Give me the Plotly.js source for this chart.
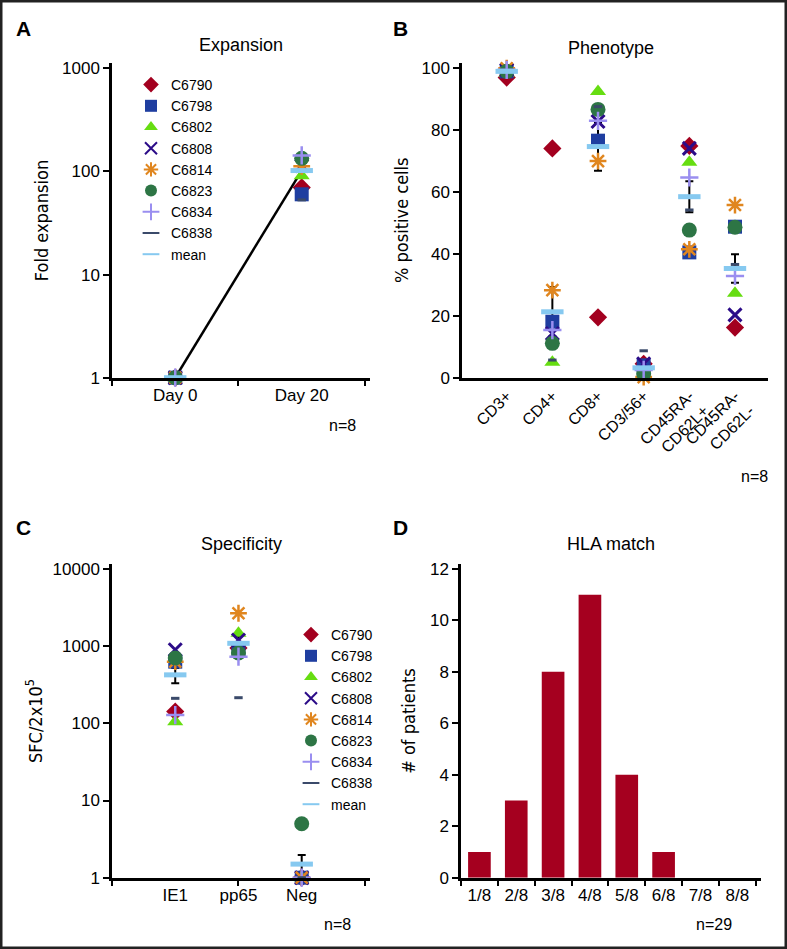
<!DOCTYPE html>
<html><head><meta charset="utf-8">
<script src="https://cdn.plot.ly/plotly-3.0.1.min.js"></script>
<style>html,body{margin:0;padding:0;background:#fff}#chart{width:787px;height:949px}</style>
</head><body><div id="chart"></div>
<script>
const W = 787, H = 949;
const patients = ['C6790','C6798','C6802','C6808','C6814','C6823','C6834','C6838'];

// Panel A: Expansion
const expDays = ['Day 0', 'Day 20'];
const expDay0 = [1, 1, 1, 1, 1, 1, 1, 1];
const expDay20 = [70, 60, 91, 114, 112, 134, 143, 53];
const expMean = [1, 102];

// Panel B: Phenotype (% positive cells)
const phenoCats = ['CD3+', 'CD4+', 'CD8+', 'CD3/56+', 'CD45RA-<br>CD62L+', 'CD45RA-<br>CD62L-'];
const phenoCD3 = [97, 99, 98.5, 99.5, 100, 99, 99.5, 99];
const phenoCD4 = [74.1, 18.1, 5, 14.3, 28.3, 11.1, 15.4, 5.7];
const phenoCD8 = [19.5, 76.6, 92.5, 82.8, 70, 86.7, 83, 87.6];
const phenoCD356 = [4.5, 4.0, 0.5, 4.5, 0.2, 1.3, 2.5, 8.7];
const phenoCD62Lpos = [74.9, 40.5, 69.6, 74.1, 41.5, 47.7, 64.7, 54.2];
const phenoCD62Lneg = [16.2, 48.8, 27.3, 20.3, 55.8, 48.6, 32.9, 36.6];
const phenoMean = [99, 21.3, 74.7, 3.2, 58.5, 35.3];
const phenoSEM = [0.3, 8, 7.8, 1, 5, 4.6];

// Panel C: Specificity (SFC/2x10^5)
const specCats = ['IE1', 'pp65', 'Neg'];
const specIE1 = [142, 630, 105, 900, 630, 703, 128, 211];
const specPP65 = [950, 893, 1469, 1203, 2670, 815, 731, 215];
const specNeg = [1, 1, 1, 1, 1, 5, 1, 1];
const specMean = [425, 1089, 1.5];
const specSEM = [95, 254, 0.47];

// Panel D: HLA match
const hlaCats = ['1/8', '2/8', '3/8', '4/8', '5/8', '6/8', '7/8', '8/8'];
const hlaCounts = [1, 3, 8, 11, 4, 1, 0, 0];

// Styles
const symbols = ['diamond', 'square', 'triangle-up', 'x-thin-open', 'asterisk-open', 'circle', 'cross-thin-open', 'line-ew-open'];
const colors = ['#a3001f', '#1f3ea0', '#66dd11', '#2c0c88', '#e0861f', '#2d7545', '#9a8ef0', '#3a4a6a'];
const mSizes = [14, 14, 14, 13, 14, 15, 13, 6];
const mLineW = [0, 0, 0, 3, 2.5, 0, 2.5, 3];
const meanColor = '#86c9f0';
const FONT = 'Liberation Sans, Arial, Helvetica, sans-serif';
const NARROW = 'Liberation Sans Narrow, Arial Narrow, DejaVu Sans Condensed, sans-serif';

function px(x) { return x / W; }
function py(y) { return 1 - y / H; }

function patientTrace(i, x, y, xa, ya, legendId, showLeg) {
  return {
    type: 'scatter', mode: 'markers', x: x, y: y, xaxis: xa, yaxis: ya,
    name: patients[i], legend: legendId, showlegend: showLeg, cliponaxis: false,
    hoverinfo: 'x+y+name',
    marker: { symbol: symbols[i], color: colors[i], size: mSizes[i],
      line: { color: colors[i], width: mLineW[i] } }
  };
}
function meanTrace(x, y, xa, ya, legendId, showLeg) {
  return {
    type: 'scatter', mode: 'markers', x: x, y: y, xaxis: xa, yaxis: ya,
    name: 'mean', legend: legendId, showlegend: showLeg, cliponaxis: false,
    marker: { symbol: 'line-ew-open', color: meanColor, size: 16, line: { color: meanColor, width: 5 } }
  };
}
function errTrace(x, y, err, xa, ya) {
  return {
    type: 'scatter', mode: 'markers', x: x, y: y, xaxis: xa, yaxis: ya,
    showlegend: false, hoverinfo: 'skip', cliponaxis: false,
    marker: { size: 1, opacity: 0 },
    error_y: { type: 'data', array: err, visible: true, color: '#000', thickness: 2, width: 4 }
  };
}

const traces = [];
// A
traces.push({ type: 'scatter', mode: 'lines', x: expDays, y: expMean, xaxis: 'x', yaxis: 'y',
  showlegend: false, hoverinfo: 'skip', line: { color: '#000', width: 2.5 } });
for (let i = 0; i < patients.length; i++) {
  traces.push(patientTrace(i, expDays, [expDay0[i], expDay20[i]], 'x', 'y', 'legend', true));
}
traces.push(meanTrace(expDays, expMean, 'x', 'y', 'legend', true));

// B
traces.push(errTrace(phenoCats, phenoMean, phenoSEM, 'x2', 'y2'));
for (let i = 0; i < patients.length; i++) {
  traces.push(patientTrace(i, phenoCats,
    [phenoCD3[i], phenoCD4[i], phenoCD8[i], phenoCD356[i], phenoCD62Lpos[i], phenoCD62Lneg[i]],
    'x2', 'y2', 'legend', false));
}
traces.push(meanTrace(phenoCats, phenoMean, 'x2', 'y2', 'legend', false));

// C
traces.push(errTrace(specCats, specMean, specSEM, 'x3', 'y3'));
for (let i = 0; i < patients.length; i++) {
  traces.push(patientTrace(i, specCats, [specIE1[i], specPP65[i], specNeg[i]], 'x3', 'y3', 'legend2', true));
}
traces.push(meanTrace(specCats, specMean, 'x3', 'y3', 'legend2', true));
traces.push({ type: 'scatter', x: [], y: [], xaxis: 'x5', yaxis: 'y3', showlegend: false, hoverinfo: 'skip' });

// D
traces.push({ type: 'bar', x: hlaCats, y: hlaCounts, xaxis: 'x4', yaxis: 'y4', showlegend: false,
  marker: { color: '#a5001f', line: { width: 0 } } });

const baseAxis = {
  showline: true, linecolor: '#000', linewidth: 2.5, showgrid: false, zeroline: false,
  ticks: 'outside', ticklen: 6, tickwidth: 2, tickcolor: '#000',
  tickfont: { family: FONT, size: 17, color: '#000' }
};
function ax(o) { return Object.assign({}, baseAxis, o); }
function ytitle(t, s) { return { text: t, font: { family: NARROW, size: 18, color: '#000' }, standoff: s }; }

const domA_x = [px(112), px(370)], domA_y = [py(377.7), py(63.3)];
const domB_x = [px(462), px(768)], domB_y = [py(377.7), py(62.7)];
const domC_x = [px(112), px(370)], domC_y = [py(877.7), py(564.3)];
const domD_x = [px(461), px(761)], domD_y = [py(877.7), py(564.3)];

function ann(text, x, y, size, bold) {
  return { text: bold ? '<b>' + text + '</b>' : text, x: px(x), y: py(y), xref: 'paper', yref: 'paper',
    xanchor: 'center', yanchor: 'middle', showarrow: false,
    font: { family: bold ? 'Liberation Sans, Arial, sans-serif' : FONT, size: size, color: '#000' } };
}

const layout = {
  width: W, height: H, margin: { l: 0, r: 0, t: 0, b: 0 },
  paper_bgcolor: '#fff', plot_bgcolor: 'rgba(0,0,0,0)',
  font: { family: FONT, color: '#000' },
  bargap: 0.385, hovermode: 'closest',
  xaxis: ax({ type: 'category', domain: domA_x, anchor: 'y', range: [-0.5, 1.54], tickson: 'boundaries' }),
  yaxis: ax({ type: 'log', domain: domA_y, anchor: 'x', range: [0, 3.0485],
    tickvals: [1, 10, 100, 1000], ticktext: ['1', '10', '100', '1000'], title: ytitle('Fold expansion', 9) }),
  xaxis2: ax({ type: 'category', domain: domB_x, anchor: 'y2', range: [-0.979, 5.723], ticks: '', tickangle: -45,
    tickfont: { family: FONT, size: 16, color: '#000' } }),
  yaxis2: ax({ domain: domB_y, anchor: 'x2', range: [0, 101.8], tickvals: [0, 20, 40, 60, 80, 100],
    title: ytitle('% positive cells', 9) }),
  xaxis3: ax({ type: 'category', domain: domC_x, anchor: 'y3', range: [-1, 3.08], ticks: '' }),
  xaxis5: ax({ domain: domC_x, anchor: 'y3', overlaying: 'x3', side: 'bottom', range: [-1, 3.08],
    tickvals: [-1, 1, 3], showticklabels: false }),
  yaxis3: ax({ type: 'log', domain: domC_y, anchor: 'x3', range: [0, 4.061],
    tickvals: [1, 10, 100, 1000, 10000], ticktext: ['1', '10', '100', '1000', '10000'],
    title: ytitle('SFC/2x10<sup>5</sup>', 6) }),
  xaxis4: ax({ type: 'category', domain: domD_x, anchor: 'y4', range: [-0.5, 7.644], tickson: 'boundaries' }),
  yaxis4: ax({ domain: domD_y, anchor: 'x4', range: [0, 12.18], tickvals: [0, 2, 4, 6, 8, 10, 12],
    title: ytitle('# of patients', 10) }),
  legend: { x: px(131), y: py(69), xanchor: 'left', yanchor: 'top', bgcolor: 'rgba(0,0,0,0)',
    font: { family: FONT, size: 14, color: '#000' }, itemsizing: 'constant', tracegroupgap: 0 },
  legend2: { x: px(291), y: py(619), xanchor: 'left', yanchor: 'top', bgcolor: 'rgba(0,0,0,0)',
    font: { family: FONT, size: 14, color: '#000' }, itemsizing: 'constant', tracegroupgap: 0 },
  annotations: [
    ann('A', 23, 29, 21, true), ann('B', 400, 29, 21, true),
    ann('C', 23, 527, 21, true), ann('D', 400, 527, 21, true),
    ann('Expansion', 241, 45, 18), ann('Phenotype', 611, 48, 18),
    ann('Specificity', 242, 544, 18), ann('HLA match', 611, 544, 18),
    ann('n=8', 342, 425, 16), ann('n=8', 754, 477, 16),
    ann('n=8', 337, 924, 16), ann('n=29', 714, 924, 16)
  ],
  shapes: [
    { type: 'rect', xref: 'paper', yref: 'paper', x0: 0, x1: 1, y0: 0, y1: 1,
      line: { color: '#222', width: 5 }, fillcolor: 'rgba(0,0,0,0)' }
  ]
};

Plotly.newPlot('chart', traces, layout, { displayModeBar: false });
</script>
</body></html>
